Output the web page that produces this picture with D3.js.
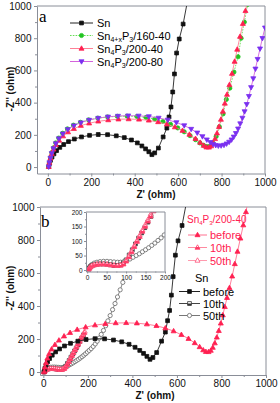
<!DOCTYPE html>
<html>
<head>
<meta charset="utf-8">
<script src="https://cdnjs.cloudflare.com/ajax/libs/d3/7.8.5/d3.min.js"></script>
<style>
    body { margin: 0; background: #fff; }
    svg { display: block; font-family: "Liberation Sans", Arial, sans-serif; }
    .axis path, .axis line { stroke: #8a8e98; stroke-width: 1; }
    .axis text { font-size: 10px; fill: #111; }
    .inset .axis text { font-size: 6.5px; }
    .ttl { font-size: 10px; font-weight: bold; fill: #111; }
    .lg { font-size: 11px; }
</style>
</head>
<body>
<div id="chart"></div>
<script>
//== DATA ================================================//
// axis ticks
var majorTicks = [0, 200, 400, 600, 800, 1000];
var minorTicks = [100, 300, 500, 700, 900];
var insetTicks = [0, 50, 100, 150, 200];
var insetMinor = [25, 75, 125, 175];

// panel a: [Z', -Z''] in ohm
var snA = [[4, 3], [7, 22], [12, 42], [19, 62], [28, 82], [40, 102], [55, 122], [73, 140], [95, 158], [122, 174],
    [155, 187], [192, 197], [232, 202], [275, 201], [315, 194], [352, 183], [385, 168], [412, 150], [433, 131],
    [450, 113], [465, 95], [479, 77], [492, 88], [509, 118], [531, 187], [548, 242], [558, 311], [567, 373],
    [575, 466], [583, 578], [593, 708], [605, 795], [623, 888], [650, 1080]];
var p160A = [[4, 3], [7, 30], [12, 60], [18, 90], [26, 120], [36, 150], [50, 180], [68, 210], [90, 237], [118, 260],
    [150, 278], [188, 293], [230, 304], [275, 311], [320, 315], [365, 316], [410, 314], [452, 308], [492, 298],
    [530, 283], [565, 265], [598, 243], [628, 219], [655, 195], [680, 170], [700, 150], [717, 135], [732, 127],
    [745, 128], [760, 150], [775, 190], [790, 250], [807, 330], [822, 420], [838, 490], [857, 590], [876, 685],
    [890, 800], [905, 900], [920, 1010]];
var p20040A = [[4, 2], [7, 28], [12, 55], [18, 83], [26, 110], [37, 138], [52, 165], [70, 192], [93, 217], [120, 238],
    [152, 257], [190, 272], [232, 284], [278, 292], [325, 297], [372, 298], [420, 296], [465, 290], [508, 280],
    [548, 266], [585, 248], [620, 226], [652, 202], [680, 176], [702, 152], [718, 133], [730, 123], [742, 122],
    [752, 130], [761, 148], [770, 175], [779, 210], [788, 250], [797, 295], [806, 345], [815, 395], [825, 450],
    [836, 510], [848, 580], [860, 655], [872, 730], [885, 810], [898, 890], [910, 970], [918, 1030]];
var p20080A = [[4, 2], [7, 28], [12, 56], [18, 85], [26, 115], [37, 146], [51, 177], [69, 207], [92, 234], [120, 257],
    [152, 276], [190, 292], [232, 304], [277, 312], [323, 317], [370, 319], [418, 318], [465, 314], [510, 305],
    [552, 293], [592, 277], [628, 258], [660, 236], [688, 213], [712, 190], [732, 170], [748, 154], [761, 142],
    [773, 135], [785, 132], [798, 133], [811, 137], [823, 145], [835, 156], [846, 170], [856, 188], [866, 210],
    [876, 238], [886, 270], [896, 305], [906, 345], [916, 390], [926, 440], [936, 495], [946, 550], [956, 610],
    [966, 670], [977, 735], [988, 800], [1000, 865]];

// panel b
var snBefore = snA;
var pBefore = p20040A;
var p10 = [[3, 0], [5, 6], [8, 11], [12, 15], [18, 18], [25, 20], [33, 21], [42, 21], [51, 20], [60, 18], [69, 16],
    [78, 15], [86, 16], [93, 20], [100, 30], [107, 45], [114, 62], [121, 80], [128, 98], [135, 115], [142, 133],
    [149, 150], [156, 168], [163, 185], [170, 203], [177, 220], [184, 238]];
var p50 = [[3, 0], [5, 5], [8, 10], [12, 14], [18, 17], [25, 19], [33, 20], [42, 20], [51, 19], [60, 17], [69, 16],
    [78, 15], [86, 17], [93, 22], [100, 33], [107, 48], [114, 66], [121, 84], [128, 102], [135, 120], [142, 138],
    [149, 156], [156, 174], [163, 192], [170, 210], [178, 228], [186, 246]];
var sn10 = [[3, 0], [5, 6], [8, 11], [12, 15], [18, 18], [25, 20], [33, 21], [42, 21], [51, 20], [60, 18], [69, 16],
    [78, 16], [86, 18], [93, 24], [100, 35], [108, 52], [116, 70], [124, 90], [132, 110], [140, 128], [148, 146],
    [156, 165], [164, 185], [172, 205], [180, 225]];
var sn50 = [[3, 0], [5, 8], [8, 14], [12, 19], [18, 24], [25, 27], [33, 29], [42, 30], [51, 30], [60, 29], [69, 28],
    [78, 27], [86, 27], [94, 29], [102, 33], [110, 38], [118, 44], [126, 50], [134, 56], [142, 63], [150, 70],
    [158, 77], [166, 85], [174, 93], [182, 102], [190, 111], [198, 121], [206, 131], [215, 142], [224, 155],
    [233, 170], [242, 187], [251, 206], [260, 228], [270, 252], [280, 280], [290, 310], [300, 342], [311, 378],
    [322, 415], [333, 455], [345, 498], [357, 543]];

// legend labels
var legendA = [["Sn"], ["Sn", "4+x", "P", "3", "/160-40"], ["Sn", "4", "P", "3", "/200-40"], ["Sn", "4", "P", "3", "/200-80"]];
var legendB = ["before", "10th", "50th"];

//== STYLES ================================================//
var stA = [
    {line: "#222", color: "#111", shape: "square", fill: "full"},
    {line: "#66dd55", color: "#22c422", shape: "circle", fill: "full", dash: "1.6,1.2"},
    {line: "#ff8095", color: "#ff2050", shape: "tri", fill: "full"},
    {line: "#d464dc", color: "#7a30f0", shape: "tridown", fill: "full"}
];
var stP = [
    {line: "#ff7090", color: "#ff2050", shape: "tri", fill: "full"},
    {line: "#ff8aa0", color: "#ff3a66", shape: "tri", fill: "half"},
    {line: "#ff9aae", color: "#ff5078", shape: "tri", fill: "open"}
];
var stS = [
    {line: "#222", color: "#111", shape: "square", fill: "full"},
    {line: "#444", color: "#333", shape: "square", fill: "half"},
    {line: "#777", color: "#666", shape: "circle", fill: "open"}
];

var shapes = {
    square: "M-1.9,-1.9H1.9V1.9H-1.9Z",
    circle: "M2.1,0A2.1,2.1,0,1,1,-2.1,0A2.1,2.1,0,1,1,2.1,0Z",
    tri: "M0,-2.7L2.5,1.7L-2.5,1.7Z",
    tridown: "M0,2.7L2.5,-1.7L-2.5,-1.7Z"
};
var halves = {
    square: "M-1.9,0H1.9V1.9H-1.9Z",
    circle: "M2.1,0A2.1,2.1,0,0,1,-2.1,0Z",
    tri: "M-1.25,-0.5L1.25,-0.5L2.5,1.7L-2.5,1.7Z",
    tridown: "M-2.5,-1.7L2.5,-1.7L1.25,0.5L-1.25,0.5Z"
};

var svg = d3.select("#chart").append("svg")
    .attr("width", 280)
    .attr("height", 403);

var marker = function (g, st, px, py) {
    var m = g.append("g").attr("transform", "translate(" + px + "," + py + ")");
    m.append("path")
        .attr("d", shapes[st.shape])
        .attr("fill", st.fill == "full" ? st.color : "#fff")
        .attr("stroke", st.color)
        .attr("stroke-width", 0.8);
    if (st.fill == "half") {
        m.append("path").attr("d", halves[st.shape]).attr("fill", st.color);
    }
}

var series = function (g, data, x, y, st) {
    g.append("path")
        .datum(data)
        .attr("fill", "none")
        .attr("stroke", st.line)
        .attr("stroke-width", 0.9)
        .attr("stroke-dasharray", st.dash || null)
        .attr("d", d3.line().x(d => x(d[0])).y(d => y(d[1])));
    var mg = g.append("g");
    data.forEach(function (d) {
        marker(mg, st, x(d[0]), y(d[1]));
    });
}

var frame = function (g, x, y, xt, xm, yt, ym, big) {
    var ts = big ? 3 : 2;
    var fmt = d3.format("d");
    g.append("g").attr("class", "axis")
        .attr("transform", "translate(0," + y.range()[0] + ")")
        .call(d3.axisBottom(x).tickValues(xt).tickFormat(fmt).tickSize(ts).tickSizeOuter(0).tickPadding(big ? 2 : 1.5));
    g.append("g").attr("class", "axis")
        .attr("transform", "translate(0," + y.range()[0] + ")")
        .call(d3.axisBottom(x).tickValues(xm).tickSize(ts - 1).tickFormat(""))
        .select(".domain").remove();
    g.append("g").attr("class", "axis")
        .attr("transform", "translate(" + x.range()[0] + ",0)")
        .call(d3.axisLeft(y).tickValues(yt).tickFormat(fmt).tickSize(ts).tickSizeOuter(0).tickPadding(big ? 2.5 : 1.5));
    g.append("g").attr("class", "axis")
        .attr("transform", "translate(" + x.range()[0] + ",0)")
        .call(d3.axisLeft(y).tickValues(ym).tickSize(ts - 1).tickFormat(""))
        .select(".domain").remove();
    g.append("path")
        .attr("d", "M" + x.range()[0] + "," + y.range()[1] + "H" + x.range()[1] + "V" + y.range()[0])
        .attr("fill", "none")
        .attr("stroke", "#8a8e98");
}

var clipRect = function (id, x, y) {
    svg.append("defs").append("clipPath").attr("id", id)
        .append("rect")
        .attr("x", x.range()[0]).attr("y", y.range()[1])
        .attr("width", x.range()[1] - x.range()[0])
        .attr("height", y.range()[0] - y.range()[1]);
}

var subText = function (t, parts, big, small) {
    parts.forEach(function (p, i) {
        var sub = i % 2 == 1;
        t.append("tspan")
            .attr("font-size", sub ? small : big)
            .attr("dy", sub ? 2.5 : (i > 0 ? -2.5 : 0))
            .text(p);
    });
}

//== PANEL A ================================================//
var xa = d3.scaleLinear().domain([-50, 1000]).range([37, 265]);
var ya = d3.scaleLinear().domain([-40, 1000]).range([173.5, 6]);
clipRect("clipA", xa, ya);
frame(svg, xa, ya, majorTicks, minorTicks, majorTicks, minorTicks, true);

var ga = svg.append("g").attr("clip-path", "url(#clipA)");
series(ga, snA, xa, ya, stA[0]);
series(ga, p160A, xa, ya, stA[1]);
series(ga, p20040A, xa, ya, stA[2]);
series(ga, p20080A, xa, ya, stA[3]);

svg.append("text").attr("x", 39).attr("y", 21.5)
    .attr("font-family", "Liberation Serif, serif").attr("font-size", 17).text("a");

var rowsA = [23, 35.5, 48.5, 61.5];
legendA.forEach(function (lab, i) {
    svg.append("line")
        .attr("x1", 70).attr("x2", 93).attr("y1", rowsA[i]).attr("y2", rowsA[i])
        .attr("stroke", stA[i].line).attr("stroke-width", 1)
        .attr("stroke-dasharray", stA[i].dash || null);
    marker(svg, stA[i], 81.5, rowsA[i]);
    var t = svg.append("text").attr("class", "lg").attr("x", 97).attr("y", rowsA[i] + 4);
    subText(t, lab, 11, 7);
});

svg.append("text").attr("class", "ttl").attr("x", 156).attr("y", 197.5)
    .attr("text-anchor", "middle").text("Z' (ohm)");
svg.append("text").attr("class", "ttl").attr("text-anchor", "middle")
    .attr("transform", "translate(14,89)rotate(-90)").text("-Z'' (ohm)");

//== PANEL B ================================================//
var xb = d3.scaleLinear().domain([-15, 1000]).range([40, 266]);
var yb = d3.scaleLinear().domain([-18, 1000]).range([375, 207]);
clipRect("clipB", xb, yb);
frame(svg, xb, yb, majorTicks, minorTicks, majorTicks, minorTicks, true);

var gb = svg.append("g").attr("clip-path", "url(#clipB)");
series(gb, sn50, xb, yb, stS[2]);
series(gb, sn10, xb, yb, stS[1]);
series(gb, p50, xb, yb, stP[2]);
series(gb, p10, xb, yb, stP[1]);
series(gb, snBefore, xb, yb, stS[0]);
series(gb, pBefore, xb, yb, stP[0]);

svg.append("text").attr("x", 41).attr("y", 226.5)
    .attr("font-family", "Liberation Serif, serif").attr("font-size", 17).text("b");

// inset
var xi = d3.scaleLinear().domain([-3, 200]).range([86, 165]);
var yi = d3.scaleLinear().domain([-5, 200]).range([271.5, 212]);
var gi = svg.append("g").attr("class", "inset");
gi.append("rect")
    .attr("x", 86).attr("y", 212).attr("width", 79).attr("height", 59.5)
    .attr("fill", "#fff");
clipRect("clipI", xi, yi);
var gic = gi.append("g").attr("clip-path", "url(#clipI)");
series(gic, sn50, xi, yi, stS[2]);
series(gic, sn10, xi, yi, stS[1]);
series(gic, p50, xi, yi, stP[2]);
series(gic, p10, xi, yi, stP[1]);
frame(gi, xi, yi, insetTicks, insetMinor, insetTicks, insetMinor, false);

// legend b
svg.append("text").attr("x", 187).attr("y", 222.5).attr("fill", "#ff2050")
    .call(t => subText(t, ["Sn", "4", "P", "3", "/200-40"], 10, 6));
var rowsP = [235, 247.5, 260.5];
var rowsS = [291.5, 303.5, 315.5];
legendB.forEach(function (lab, i) {
    svg.append("line")
        .attr("x1", 188).attr("x2", 207).attr("y1", rowsP[i]).attr("y2", rowsP[i])
        .attr("stroke", stP[i].line).attr("stroke-width", 1);
    marker(svg, stP[i], 197.5, rowsP[i]);
    svg.append("text").attr("class", "lg").attr("x", 210).attr("y", rowsP[i] + 4)
        .attr("fill", "#ff2050").text(lab);
});
svg.append("text").attr("class", "lg").attr("x", 195).attr("y", 282).text("Sn");
legendB.forEach(function (lab, i) {
    svg.append("line")
        .attr("x1", 179).attr("x2", 200).attr("y1", rowsS[i]).attr("y2", rowsS[i])
        .attr("stroke", stS[i].line).attr("stroke-width", 1);
    marker(svg, stS[i], 189.5, rowsS[i]);
    svg.append("text").attr("class", "lg").attr("x", 203).attr("y", rowsS[i] + 4).text(lab);
});

svg.append("text").attr("class", "ttl").attr("x", 155).attr("y", 399)
    .attr("text-anchor", "middle").text("Z' (ohm)");
svg.append("text").attr("class", "ttl").attr("text-anchor", "middle")
    .attr("transform", "translate(14,288)rotate(-90)").text("-Z'' (ohm)");
</script>
</body>
</html>
